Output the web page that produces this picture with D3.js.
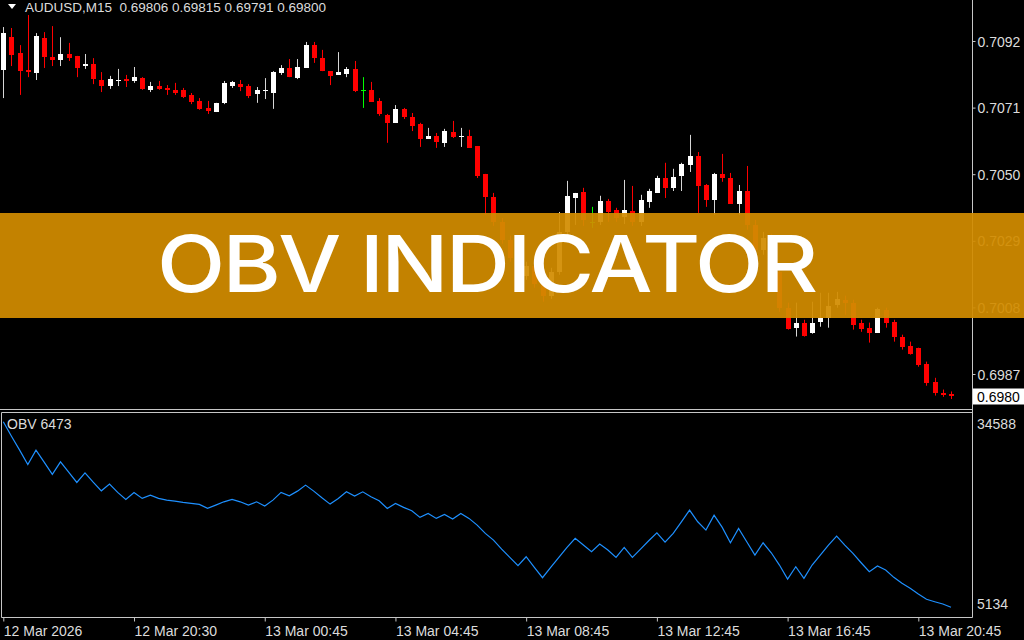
<!DOCTYPE html>
<html>
<head>
<meta charset="utf-8">
<script src="https://cdn.jsdelivr.net/npm/d3@7"></script>
<style>
body { margin: 0; background: #000; }
svg { display: block; }
</style>
</head>
<body>
<svg width="1024" height="640"></svg>
<script>
var symbol = "AUDUSD,M15";
var quote = ["0.69806", "0.69815", "0.69791", "0.69800"];

// M15 bars, oldest first
var opens = [0.70829, 0.70932, 0.70882, 0.70829, 0.70819, 0.70929, 0.70869, 0.70860, 0.70879, 0.70873,
  0.70841, 0.70847, 0.70797, 0.70778, 0.70794, 0.70800, 0.70794, 0.70803, 0.70766, 0.70778,
  0.70772, 0.70766, 0.70766, 0.70750, 0.70731, 0.70709, 0.70696, 0.70725, 0.70778, 0.70784,
  0.70778, 0.70753, 0.70762, 0.70756, 0.70819, 0.70835, 0.70803, 0.70835, 0.70907, 0.70866,
  0.70825, 0.70813, 0.70816, 0.70832, 0.70766, 0.70766, 0.70731, 0.70687, 0.70662, 0.70706,
  0.70680, 0.70658, 0.70611, 0.70621, 0.70599, 0.70633, 0.70617, 0.70621, 0.70589, 0.70501,
  0.70428, 0.70350, 0.70293, 0.70236, 0.70180, 0.70211, 0.70154, 0.70117, 0.70192, 0.70318,
  0.70425, 0.70444, 0.70350, 0.70350, 0.70416, 0.70387, 0.70365, 0.70384, 0.70350, 0.70413,
  0.70441, 0.70488, 0.70457, 0.70495, 0.70529, 0.70558, 0.70466, 0.70419, 0.70501, 0.70488,
  0.70406, 0.70447, 0.70340, 0.70262, 0.70300, 0.70192, 0.70079, 0.70016, 0.70032, 0.70000,
  0.70035, 0.70047, 0.70088, 0.70104, 0.70095, 0.70032, 0.70016, 0.70000, 0.70073, 0.70035,
  0.69988, 0.69959, 0.69953, 0.69902, 0.69846, 0.69811, 0.69806];
var highs = [0.70964, 0.70961, 0.70907, 0.71002, 0.70945, 0.70948, 0.70967, 0.70932, 0.70914, 0.70873,
  0.70879, 0.70866, 0.70822, 0.70810, 0.70832, 0.70813, 0.70838, 0.70806, 0.70791, 0.70794,
  0.70781, 0.70788, 0.70772, 0.70756, 0.70740, 0.70731, 0.70725, 0.70794, 0.70794, 0.70797,
  0.70784, 0.70775, 0.70803, 0.70825, 0.70844, 0.70863, 0.70863, 0.70917, 0.70917, 0.70892,
  0.70825, 0.70885, 0.70838, 0.70857, 0.70806, 0.70791, 0.70740, 0.70690, 0.70718, 0.70709,
  0.70693, 0.70662, 0.70646, 0.70630, 0.70643, 0.70668, 0.70646, 0.70640, 0.70589, 0.70501,
  0.70441, 0.70362, 0.70306, 0.70249, 0.70224, 0.70221, 0.70167, 0.70205, 0.70381, 0.70479,
  0.70441, 0.70457, 0.70397, 0.70432, 0.70422, 0.70394, 0.70482, 0.70463, 0.70435, 0.70454,
  0.70495, 0.70536, 0.70517, 0.70536, 0.70624, 0.70570, 0.70469, 0.70504, 0.70564, 0.70504,
  0.70466, 0.70526, 0.70356, 0.70318, 0.70312, 0.70205, 0.70095, 0.70095, 0.70041, 0.70098,
  0.70126, 0.70126, 0.70129, 0.70117, 0.70104, 0.70041, 0.70032, 0.70079, 0.70079, 0.70041,
  0.69994, 0.69972, 0.69953, 0.69909, 0.69858, 0.69821, 0.69815];
var lows = [0.70740, 0.70841, 0.70750, 0.70806, 0.70797, 0.70835, 0.70841, 0.70841, 0.70857, 0.70806,
  0.70832, 0.70784, 0.70759, 0.70769, 0.70778, 0.70775, 0.70788, 0.70766, 0.70759, 0.70766,
  0.70750, 0.70750, 0.70740, 0.70721, 0.70703, 0.70690, 0.70696, 0.70721, 0.70772, 0.70762,
  0.70740, 0.70725, 0.70737, 0.70706, 0.70813, 0.70806, 0.70800, 0.70835, 0.70851, 0.70825,
  0.70781, 0.70813, 0.70806, 0.70759, 0.70709, 0.70728, 0.70684, 0.70599, 0.70662, 0.70674,
  0.70636, 0.70586, 0.70611, 0.70583, 0.70586, 0.70614, 0.70586, 0.70583, 0.70488, 0.70372,
  0.70337, 0.70281, 0.70224, 0.70161, 0.70167, 0.70142, 0.70098, 0.70107, 0.70183, 0.70306,
  0.70340, 0.70337, 0.70331, 0.70340, 0.70350, 0.70350, 0.70343, 0.70337, 0.70337, 0.70394,
  0.70441, 0.70425, 0.70447, 0.70447, 0.70507, 0.70378, 0.70397, 0.70372, 0.70476, 0.70406,
  0.70372, 0.70325, 0.70243, 0.70246, 0.70183, 0.70066, 0.70010, 0.69988, 0.69988, 0.69997,
  0.70019, 0.70016, 0.70079, 0.70057, 0.70010, 0.70003, 0.69969, 0.70000, 0.70016, 0.69972,
  0.69947, 0.69931, 0.69893, 0.69833, 0.69802, 0.69798, 0.69791];
var closes = [0.70945, 0.70876, 0.70825, 0.70822, 0.70936, 0.70869, 0.70860, 0.70879, 0.70866, 0.70835,
  0.70847, 0.70800, 0.70778, 0.70800, 0.70797, 0.70794, 0.70806, 0.70769, 0.70778, 0.70769,
  0.70766, 0.70756, 0.70743, 0.70728, 0.70706, 0.70699, 0.70725, 0.70788, 0.70791, 0.70775,
  0.70747, 0.70766, 0.70764, 0.70822, 0.70835, 0.70806, 0.70838, 0.70907, 0.70866, 0.70825,
  0.70810, 0.70822, 0.70832, 0.70762, 0.70766, 0.70728, 0.70690, 0.70662, 0.70706, 0.70680,
  0.70652, 0.70611, 0.70621, 0.70602, 0.70636, 0.70617, 0.70621, 0.70583, 0.70495, 0.70428,
  0.70350, 0.70293, 0.70236, 0.70180, 0.70211, 0.70154, 0.70117, 0.70192, 0.70318, 0.70432,
  0.70441, 0.70356, 0.70350, 0.70416, 0.70381, 0.70362, 0.70387, 0.70350, 0.70419, 0.70447,
  0.70488, 0.70457, 0.70491, 0.70532, 0.70558, 0.70463, 0.70419, 0.70501, 0.70488, 0.70406,
  0.70447, 0.70340, 0.70262, 0.70300, 0.70199, 0.70079, 0.70013, 0.70032, 0.69991, 0.70032,
  0.70047, 0.70085, 0.70107, 0.70095, 0.70025, 0.70013, 0.70000, 0.70076, 0.70032, 0.69988,
  0.69956, 0.69934, 0.69899, 0.69843, 0.69811, 0.69805, 0.69800];

var obv = [34588, 32290, 30071, 27804, 30071, 28168, 26218, 28216, 26583, 24950,
  26472, 24998, 23619, 24681, 23365, 22255, 23365, 22414, 22937, 22414,
  22144, 21986, 21780, 21621, 21463, 20828, 21352, 21875, 22255, 21875,
  21352, 21875, 21193, 22144, 23365, 22826, 23571, 24522, 23571, 22509,
  21510, 22414, 23460, 22778, 23460, 22667, 22033, 20828, 21621, 20987,
  20448, 19402, 20036, 19243, 19877, 19132, 20036, 19243, 18181, 16865,
  15803, 14376, 13061, 11729, 13156, 11475, 9826, 11475, 13061, 14646,
  16073, 15010, 13948, 15169, 14218, 13061, 14646, 13061, 14376, 15692,
  16960, 15486, 16865, 18704, 20559, 18704, 17388, 19766, 17816, 15375,
  17658, 15534, 13425, 15375, 13790, 11840, 9620, 11570, 9731, 11840,
  13425, 15010, 16437, 15010, 13695, 12204, 10778, 11681, 11047, 9890,
  8939, 8146, 7242, 6402, 6022, 5657, 5134];
var obvLabel = "OBV 6473";

var timeTicks = [0, 16, 32, 48, 64, 80, 96, 112];
var timeLabels = ["12 Mar 2026", "12 Mar 20:30", "13 Mar 00:45", "13 Mar 04:45",
  "13 Mar 08:45", "13 Mar 12:45", "13 Mar 16:45", "13 Mar 20:45"];
var priceTicks = [0.7092, 0.7071, 0.7050, 0.7029, 0.7008, 0.6987];
var lastPrice = 0.6980;
var bannerText = "OBV INDICATOR";

var svg = d3.select("svg"),
    width = +svg.attr("width"),
    height = +svg.attr("height");

var plotRight = 972.5,
    mainBottom = 409.5,
    subTop = 412.5,
    subBottom = 617.5;
var lineColor = "#c6c6c6",
    textColor = "#dcdcdc",
    font = "'Liberation Sans', Arial, sans-serif";

svg.append("rect").attr("width", width).attr("height", height).attr("fill", "#000");

var x = d3.scaleLinear().domain([0, opens.length - 1]).range([3.3, 951]);
var y = d3.scaleLinear().domain([0.6987, 0.7092]).range([374, 41]);
var yObv = d3.scaleLinear().domain(d3.extent(obv)).range([607.3, 421.7]);

var bars = d3.range(opens.length).map(function(i) {
  return {i: i, o: opens[i], h: highs[i], l: lows[i], c: closes[i]};
});

function barColor(d) {
  if (d.c > d.o) return "#ffffff";
  if (d.c < d.o) return "#ff0000";
  return "#00ff00";
}
function wickColor(d) {
  if (d.c > d.o) return "#d6d6d6";
  return barColor(d);
}
function cx(d) { return Math.round(x(d.i)) + 0.5; }

svg.append("clipPath").attr("id", "main-clip")
  .append("rect").attr("width", plotRight).attr("height", mainBottom);

var main = svg.append("g").attr("clip-path", "url(#main-clip)");

main.selectAll(".wick").data(bars)
  .enter().append("line")
    .attr("class", "wick")
    .attr("x1", cx)
    .attr("x2", cx)
    .attr("y1", function(d) { return y(d.h); })
    .attr("y2", function(d) { return y(d.l); })
    .attr("stroke", wickColor)
    .attr("stroke-width", 1);

main.selectAll(".body").data(bars)
  .enter().append("rect")
    .attr("class", "body")
    .attr("x", function(d) { return cx(d) - 2.5; })
    .attr("y", function(d) { return Math.round(y(Math.max(d.o, d.c))); })
    .attr("width", 5)
    .attr("height", function(d) { return Math.max(1, Math.round(Math.abs(y(d.o) - y(d.c)))); })
    .attr("fill", barColor);

// OBV sub window
var obvLine = d3.line()
    .x(function(d, i) { return x(i); })
    .y(function(d) { return yObv(d); });

svg.append("path").datum(obv)
  .attr("d", obvLine)
  .attr("fill", "none")
  .attr("stroke", "#1e90ff")
  .attr("stroke-width", 1.2);

// frames
var frame = svg.append("g").attr("stroke", lineColor).attr("stroke-width", 1).attr("fill", "none");
frame.append("line").attr("x1", plotRight).attr("x2", plotRight).attr("y1", 0).attr("y2", subBottom);
frame.append("line").attr("x1", 0).attr("x2", plotRight).attr("y1", mainBottom).attr("y2", mainBottom);
frame.append("line").attr("x1", 1.5).attr("x2", plotRight).attr("y1", subTop).attr("y2", subTop);
frame.append("line").attr("x1", 1.5).attr("x2", 1.5).attr("y1", subTop).attr("y2", subBottom);

// price axis
var priceAxis = d3.axisRight(y)
    .tickValues(priceTicks)
    .tickFormat(d3.format(".4f"))
    .tickSize(3)
    .tickPadding(2);

var pa = svg.append("g")
    .attr("transform", "translate(" + plotRight + ",0)")
    .call(priceAxis);
pa.select(".domain").remove();
pa.selectAll("line").attr("stroke", lineColor);
pa.selectAll("text").attr("fill", textColor).attr("font-family", font).attr("font-size", 14).attr("dy", "0.36em");

// current price marker
var lp = svg.append("g").attr("transform", "translate(" + plotRight + "," + Math.round(y(lastPrice)) + ")");
lp.append("rect").attr("x", 0.5).attr("y", -7.5).attr("width", 52).attr("height", 16).attr("fill", "#fff");
lp.append("text").attr("x", 4.5).attr("y", 5.5).attr("fill", "#000")
  .attr("font-family", font).attr("font-size", 14).text(d3.format(".4f")(lastPrice));

// OBV scale labels
var obvRange = d3.extent(obv);
svg.selectAll(".obv-lab").data(obvRange)
  .enter().append("text")
    .attr("class", "obv-lab")
    .attr("x", plotRight + 4.5)
    .attr("y", function(d) { return yObv(d); })
    .attr("dy", function(d, i) { return i == 0 ? "0.1em" : "0.5em"; })
    .attr("fill", textColor)
    .attr("font-family", font)
    .attr("font-size", 14)
    .text(function(d) { return d; });

// time axis
var timeAxis = d3.axisBottom(x)
    .tickValues(timeTicks)
    .tickFormat(function(d, i) { return timeLabels[i]; })
    .tickSize(4)
    .tickPadding(5);

var ta = svg.append("g")
    .attr("transform", "translate(0," + subBottom + ")")
    .call(timeAxis);
ta.select(".domain").remove();
ta.selectAll("line").attr("stroke", lineColor);
ta.selectAll("text").attr("fill", textColor).attr("font-family", font).attr("font-size", 14)
  .attr("text-anchor", "start");
svg.append("line").attr("x1", 1.5).attr("x2", plotRight).attr("y1", subBottom).attr("y2", subBottom)
  .attr("stroke", lineColor);

// header
svg.append("path").attr("d", "M8,4 L16,4 L12,9 Z").attr("fill", "#fff");
svg.append("text")
  .attr("x", 25).attr("y", 12)
  .attr("fill", textColor)
  .attr("font-family", font)
  .attr("font-size", 13.5)
  .attr("xml:space", "preserve")
  .text(symbol + "  " + quote.join(" "));

svg.append("text")
  .attr("x", 7).attr("y", 429)
  .attr("fill", textColor)
  .attr("font-family", font)
  .attr("font-size", 14)
  .text(obvLabel);

// banner on top
svg.append("rect")
  .attr("x", 0).attr("y", 213)
  .attr("width", width).attr("height", 105)
  .attr("fill", "rgb(210,140,0)")
  .attr("fill-opacity", 0.93);

svg.append("text")
  .attr("transform", "translate(487.5,292) scale(1.14,1)")
  .attr("text-anchor", "middle")
  .attr("fill", "#fff")
  .attr("font-family", "Inter, 'Open Sans', sans-serif")
  .attr("font-weight", 500)
  .attr("font-size", 78)
  .attr("textLength", 580)
  .attr("lengthAdjust", "spacing")
  .text(bannerText);
</script>
</body>
</html>
